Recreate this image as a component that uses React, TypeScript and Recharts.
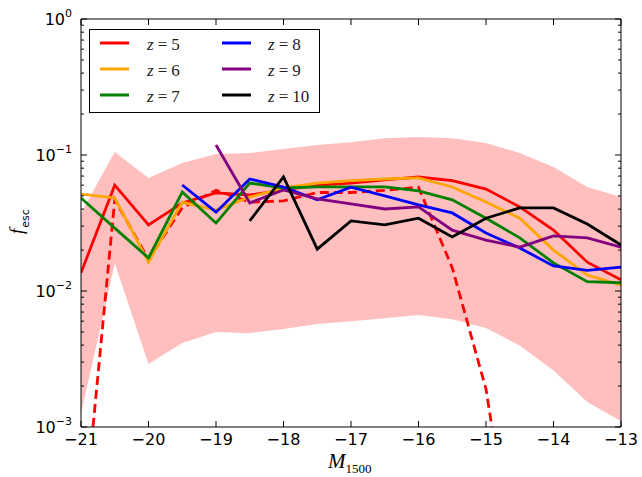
import { ComposedChart, Line, Area, XAxis, YAxis, Legend } from 'recharts';

// absolute magnitudes, 0.5 mag bins
const mags = [-21, -20.5, -20, -19.5, -19, -18.5, -18, -17.5, -17, -16.5, -16, -15.5, -15, -14.5, -14, -13.5, -13];

// escape fractions per redshift (null = no galaxies in bin)
const z5 = [0.0136, 0.060, 0.0306, 0.0444, 0.0526, 0.0508, 0.0553, 0.060, 0.0622, 0.0656, 0.0689, 0.0647, 0.0562, 0.0415, 0.0281, 0.0163, 0.0121];
const z5dash = [0.00012, 0.047, 0.017, 0.041, 0.055, 0.045, 0.046, 0.053, 0.053, 0.055, 0.058, 0.0148, 0.0019, 0.00005, null, null, null];
const z6 = [0.0516, 0.0483, 0.0163, 0.0451, 0.0394, 0.0491, 0.0572, 0.0622, 0.0647, 0.0666, 0.0678, 0.0582, 0.0451, 0.0343, 0.020, 0.0131, 0.0111];
const z7 = [0.0483, 0.029, 0.0175, 0.0534, 0.0316, 0.0622, 0.0572, 0.0582, 0.0582, 0.0582, 0.0545, 0.0468, 0.0343, 0.0246, 0.0161, 0.0117, 0.0115];
const z8 = [null, null, null, 0.0602, 0.038, 0.0666, 0.0582, 0.0468, 0.058, 0.050, 0.043, 0.0375, 0.0267, 0.0207, 0.0153, 0.0142, 0.015];
const z9 = [null, null, null, null, 0.1186, 0.0444, 0.0553, 0.0476, 0.0437, 0.0401, 0.0415, 0.028, 0.0237, 0.021, 0.0254, 0.0246, 0.021];
const z10 = [null, null, null, null, null, 0.0328, 0.0689, 0.0203, 0.0328, 0.0306, 0.0343, 0.025, 0.0343, 0.0408, 0.0408, 0.0311, 0.0218];

// shaded scatter envelope
const bandLow = [0.00125, 0.016, 0.0029, 0.00415, 0.005, 0.0049, 0.00526, 0.00572, 0.006, 0.0063, 0.00666, 0.0062, 0.00535, 0.00397, 0.0026, 0.00153, 0.0011];
const bandHigh = [0.0375, 0.105, 0.0678, 0.0873, 0.1017, 0.1034, 0.1107, 0.1186, 0.124, 0.133, 0.1356, 0.133, 0.1225, 0.1034, 0.0816, 0.0582, 0.0491];

const xTicks = [-21, -20, -19, -18, -17, -16, -15, -14, -13];
const yMajor = [0.001, 0.01, 0.1, 1];
const yTicks: number[] = [];
yMajor.forEach((v, i) => {
  yTicks.push(v);
  if (i < yMajor.length - 1) for (let k = 2; k <= 9; k++) yTicks.push(v * k);
});

const legendZ = ['5', '6', '7', '8', '9', '10'];
const legendColors = ['#ff0000', '#ffa500', '#008000', '#0000ff', '#800080', '#000000'];

// plot box (chart margins + axis sizes), used for the mirrored top/right frame
const PLOT_L = 81;
const PLOT_T = 19;
const PLOT_W = 540;
const PLOT_H = 408;

const data = mags.map((m, i) => ({
  m,
  z5: z5[i],
  z5d: z5dash[i],
  z6: z6[i],
  z7: z7[i],
  z8: z8[i],
  z9: z9[i],
  z10: z10[i],
  band: [bandLow[i], bandHigh[i]],
}));

const isMajor = (v: number) => Math.abs(Math.log10(v) - Math.round(Math.log10(v))) < 1e-6;
const fmtX = (v: number) => (v < 0 ? '\u2212' + Math.abs(v) : String(v));

const BottomTick = ({ x, y, payload }: any) => (
  <g>
    <line x1={x} x2={x} y1={y} y2={y - 6} stroke="#000" strokeWidth={1} />
    <text x={x} y={y + 18} textAnchor="middle" fontFamily="DejaVu Sans" fontSize={16} fill="#000">
      {fmtX(payload.value)}
    </text>
  </g>
);

const LeftTick = ({ x, y, payload }: any) => {
  const major = isMajor(payload.value);
  const exp = Math.round(Math.log10(payload.value));
  return (
    <g>
      <line x1={x} x2={x + (major ? 6 : 3)} y1={y} y2={y} stroke="#000" strokeWidth={1} />
      {major && (
        <text x={x - 9} y={y + 6} textAnchor="end" fontFamily="DejaVu Sans" fontSize={16} fill="#000">
          10
          <tspan fontSize={11} dy={-8}>{exp < 0 ? '\u2212' + Math.abs(exp) : String(exp)}</tspan>
        </text>
      )}
    </g>
  );
};

// top and right spines with inward ticks (matplotlib style box)
const FrameOverlay = () => {
  const xs = (v: number) => PLOT_L + ((v - xTicks[0]) / (xTicks[xTicks.length - 1] - xTicks[0])) * PLOT_W;
  const ys = (v: number) => PLOT_T + (-Math.log10(v) / 3) * PLOT_H;
  const right = PLOT_L + PLOT_W;
  return (
    <svg
      width={642}
      height={477}
      style={{ position: 'absolute', left: 0, top: 0, pointerEvents: 'none' }}
    >
      <line x1={PLOT_L} x2={right} y1={PLOT_T} y2={PLOT_T} stroke="#000" strokeWidth={1} />
      <line x1={right} x2={right} y1={PLOT_T} y2={PLOT_T + PLOT_H} stroke="#000" strokeWidth={1} />
      {xTicks.map((t) => (
        <line key={'t' + t} x1={xs(t)} x2={xs(t)} y1={PLOT_T} y2={PLOT_T + 6} stroke="#000" strokeWidth={1} />
      ))}
      {yTicks.map((t) => (
        <line
          key={'r' + t}
          x1={right}
          x2={right - (isMajor(t) ? 6 : 3)}
          y1={ys(t)}
          y2={ys(t)}
          stroke="#000"
          strokeWidth={1}
        />
      ))}
    </svg>
  );
};

const XLabel = ({ viewBox }: any) => (
  <text x={viewBox.x + viewBox.width / 2 - 23} y={viewBox.y + 41} fill="#000">
    <tspan fontFamily="Liberation Serif" fontStyle="italic" fontSize={21}>M</tspan>
    <tspan fontFamily="Liberation Serif" fontSize={13} dy={5}>1500</tspan>
  </text>
);

const YLabel = () => (
  <text x={23} y={234} transform="rotate(-90, 23, 234)" fill="#000">
    <tspan fontFamily="Liberation Serif" fontStyle="italic" fontSize={19}>f</tspan>
    <tspan fontFamily="DejaVu Sans" fontSize={11} dx={1} dy={6}>esc</tspan>
  </text>
);

const LegendBox = () => (
  <svg width={232} height={85} style={{ display: 'block' }}>
    <rect x={0.5} y={0.5} width={230} height={83} fill="#fff" stroke="#000" strokeWidth={1} />
    {legendZ.map((z, i) => {
      const col = Math.floor(i / 3);
      const row = i % 3;
      const lx = col === 0 ? 11 : 133;
      const tx = col === 0 ? 58 : 179;
      const ly = 14 + row * 26;
      return (
        <g key={z}>
          <line x1={lx} x2={lx + 29} y1={ly} y2={ly} stroke={legendColors[i]} strokeWidth={3} />
          <text x={tx} y={ly + 7} fontFamily="Liberation Serif" fontSize={17} fill="#222">
            <tspan fontStyle="italic">z</tspan>
            <tspan dx={4}>=</tspan>
            <tspan dx={4}>{z}</tspan>
          </text>
        </g>
      );
    })}
  </svg>
);

export default function App() {
  return (
    <div style={{ position: 'absolute', left: 0, top: 0, width: 642, height: 477, background: '#fff' }}>
      <ComposedChart width={642} height={477} data={data} margin={{ top: 19, right: 21, bottom: 0, left: 0 }}>
        <XAxis
          dataKey="m"
          type="number"
          domain={[-21, -13]}
          ticks={xTicks}
          allowDataOverflow
          height={50}
          tickSize={0}
          tickMargin={0}
          tickLine={false}
          interval={0}
          tick={<BottomTick />}
          axisLine={{ stroke: '#000', strokeWidth: 1 }}
          label={{ content: <XLabel /> }}
        />
        <YAxis
          scale="log"
          type="number"
          domain={[0.001, 1]}
          ticks={yTicks}
          allowDataOverflow
          width={81}
          tickSize={0}
          tickMargin={0}
          tickLine={false}
          interval={0}
          tick={<LeftTick />}
          axisLine={{ stroke: '#000', strokeWidth: 1 }}
          label={{ content: <YLabel /> }}
        />
        <Area dataKey="band" fill="#ffbfbf" fillOpacity={1} stroke="none" isAnimationActive={false} />
        <Line dataKey="z5" stroke="#ff0000" strokeWidth={2.8} dot={false} isAnimationActive={false} />
        <Line dataKey="z5d" stroke="#ff0000" strokeWidth={2.8} strokeDasharray="9 5" dot={false} isAnimationActive={false} />
        <Line dataKey="z6" stroke="#ffa500" strokeWidth={2.8} dot={false} isAnimationActive={false} />
        <Line dataKey="z7" stroke="#008000" strokeWidth={2.8} dot={false} isAnimationActive={false} />
        <Line dataKey="z8" stroke="#0000ff" strokeWidth={2.8} dot={false} isAnimationActive={false} />
        <Line dataKey="z9" stroke="#800080" strokeWidth={2.8} dot={false} isAnimationActive={false} />
        <Line dataKey="z10" stroke="#000000" strokeWidth={2.8} dot={false} isAnimationActive={false} />
        <Legend
          layout="vertical"
          verticalAlign="middle"
          align="center"
          content={<LegendBox />}
          wrapperStyle={{ left: 89, top: 29, width: 232, height: 85 }}
        />
      </ComposedChart>
      <FrameOverlay />
    </div>
  );
}
